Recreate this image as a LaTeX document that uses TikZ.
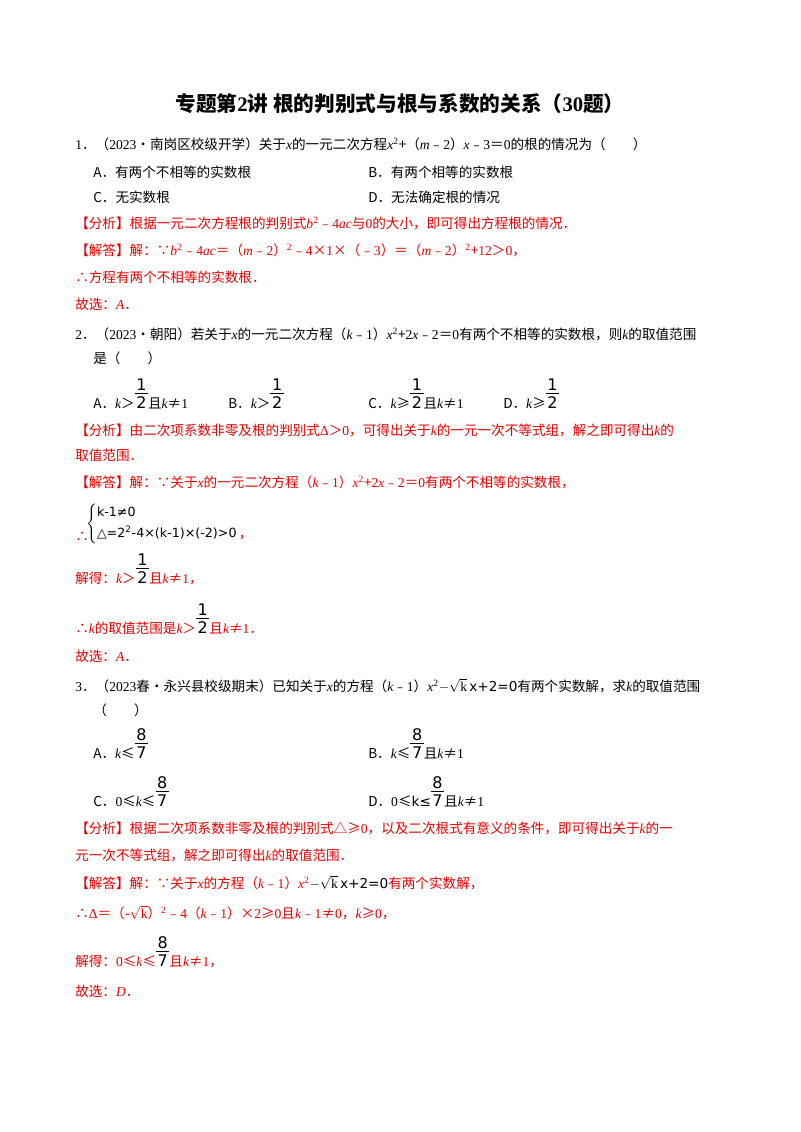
\documentclass[tikz,border=0pt]{standalone}
\usepackage{fontspec}
\setmainfont{Liberation Serif}
\newfontfamily\cjk{Noto Sans CJK SC}
\newfontfamily\lat{Liberation Serif}
\newfontfamily\sfx{DejaVu Sans}
\newcommand{\vv}[1]{{\lat\itshape #1}}
\newcommand{\nn}[1]{{\lat #1}}
\newcommand{\fr}[2]{{\color{black}\sfx\fontsize{12}{14}\selectfont\makebox[10pt][l]{\rlap{\raisebox{10.5pt}{\rule{10pt}{0.5pt}}}\rlap{\raisebox{13.5pt}{\makebox[10pt]{#1}}}\makebox[10pt]{#2}}}}
\definecolor{myred}{RGB}{230,0,0}
\tikzset{t/.style={anchor=base west,inner sep=0,font=\cjk\fontsize{10.2}{12}\selectfont},
 r/.style={t,text=myred}}
\begin{document}
\begin{tikzpicture}[x=0.75pt,y=-0.75pt]
\useasboundingbox[fill=white] (0,0) rectangle (800,1132);
\node[anchor=base,inner sep=0,font=\cjk\bfseries\fontsize{15.5}{17}\selectfont] (title) at (400,111) {专题第\nn{\textbf{2}}讲\ 根的判别式与根与系数的关系（\nn{\textbf{30}}题）};
% Q1
\node[t] (q1) at (75,149) {\nn{1}．（\nn{2023}•南岗区校级开学）关于\vv{x}的一元二次方程\vv{x}\textsuperscript{\nn{2}}+（\vv{m}﹣\nn{2}）\vv{x}﹣\nn{3}＝\nn{0}的根的情况为（　　）};
\node[t] (q1a) at (93,177) {A．有两个不相等的实数根};
\node[t] (q1b) at (368,177) {B．有两个相等的实数根};
\node[t] (q1c) at (93,202) {C．无实数根};
\node[t] (q1d) at (368,202) {D．无法确定根的情况};
\node[r] (q1f) at (75,228) {【分析】根据一元二次方程根的判别式\vv{b}\textsuperscript{\nn{2}}﹣\nn{4}\vv{ac}与\nn{0}的大小，即可得出方程根的情况．};
\node[r] (q1j) at (75,255) {【解答】解：∵\vv{b}\textsuperscript{\nn{2}}﹣\nn{4}\vv{ac}＝（\vv{m}﹣\nn{2}）\textsuperscript{\nn{2}}﹣\nn{4}×\nn{1}×（﹣\nn{3}）＝（\vv{m}﹣\nn{2}）\textsuperscript{\nn{2}}+\nn{12}＞\nn{0}，};
\node[r] (q1k) at (75,282) {∴方程有两个不相等的实数根．};
\node[r] (q1s) at (75,309) {故选：\vv{A}．};
% Q2
\node[t] (q2) at (75,339) {\nn{2}．（\nn{2023}•朝阳）若关于\vv{x}的一元二次方程（\vv{k}﹣\nn{1}）\vv{x}\textsuperscript{\nn{2}}+\nn{2}\vv{x}﹣\nn{2}＝\nn{0}有两个不相等的实数根，则\vv{k}的取值范围};
\node[t] (q2b) at (93,363) {是（　　）};
\node[t] (q2A) at (93,408) {A．\vv{k}＞\fr{1}{2}且\vv{k}≠\nn{1}};
\node[t] (q2B) at (228,408) {B．\vv{k}＞\fr{1}{2}};
\node[t] (q2C) at (368,408) {C．\vv{k}≥\fr{1}{2}且\vv{k}≠\nn{1}};
\node[t] (q2D) at (503,408) {D．\vv{k}≥\fr{1}{2}};
\node[r] (q2f) at (75,435) {【分析】由二次项系数非零及根的判别式\nn{Δ}＞\nn{0}，可得出关于\vv{k}的一元一次不等式组，解之即可得出\vv{k}的};
\node[r] (q2f2) at (75,460) {取值范围．};
\node[r] (q2j) at (75,487) {【解答】解：∵关于\vv{x}的一元二次方程（\vv{k}﹣\nn{1}）\vv{x}\textsuperscript{\nn{2}}+\nn{2}\vv{x}﹣\nn{2}＝\nn{0}有两个不相等的实数根，};
\node[r] (q2t) at (75,541) {∴};
\node[anchor=west,inner sep=0,font=\sfx\fontsize{9.5}{12}\selectfont] (sys) at (86,524) {$\left\{\begin{tabular}{@{}l@{}}k-1≠0\\[3pt] △=2\textsuperscript{2}-4×(k-1)×(-2)>0\end{tabular}\right.$};
\node[r,anchor=base west] at (sys.south east) [yshift=4pt] {，};
\node[r] (q2s) at (75,583) {解得：\vv{k}＞\fr{1}{2}且\vv{k}≠\nn{1}，};
\node[r] (q2r) at (75,633) {∴\vv{k}的取值范围是\vv{k}＞\fr{1}{2}且\vv{k}≠\nn{1}．};
\node[r] (q2x) at (75,661) {故选：\vv{A}．};
% Q3
\node[t] (q3) at (75,691) {\nn{3}．（\nn{2023}春•永兴县校级期末）已知关于\vv{x}的方程（\vv{k}﹣\nn{1}）\vv{x}\textsuperscript{\nn{2}}{\sfx$-\sqrt{\mathrm{k}}\,$x+2=0}有两个实数解，求\vv{k}的取值范围};
\node[t] (q3b) at (93,715) {（　　）};
\node[t] (q3A) at (93,758) {A．\vv{k}≤\fr{8}{7}};
\node[t] (q3B) at (368,758) {B．\vv{k}≤\fr{8}{7}且\vv{k}≠\nn{1}};
\node[t] (q3C) at (93,806) {C．\nn{0}≤\vv{k}≤\fr{8}{7}};
\node[t] (q3D) at (368,806) {D．\nn{0}≤{\sfx k≤}\fr{8}{7}且\vv{k}≠\nn{1}};
\node[r] (q3f) at (75,833) {【分析】根据二次项系数非零及根的判别式△≥\nn{0}，以及二次根式有意义的条件，即可得出关于\vv{k}的一};
\node[r] (q3f2) at (75,860) {元一次不等式组，解之即可得出\vv{k}的取值范围．};
\node[r] (q3j) at (75,888) {【解答】解：∵关于\vv{x}的方程（\vv{k}﹣\nn{1}）\vv{x}\textsuperscript{\nn{2}}{\color{black}\sfx$-\sqrt{\mathrm{k}}\,$x+2=0}有两个实数解，};
\node[r] (q3k) at (75,918) {∴\nn{Δ}＝（{\sfx -$\sqrt{\mathrm{k}}$}）\textsuperscript{\nn{2}}﹣\nn{4}（\vv{k}﹣\nn{1}）×\nn{2}≥\nn{0}且\vv{k}﹣\nn{1}≠\nn{0}，\vv{k}≥\nn{0}，};
\node[r] (q3s) at (75,966) {解得：\nn{0}≤\vv{k}≤\fr{8}{7}且\vv{k}≠\nn{1}，};
\node[r] (q3x) at (75,996) {故选：\vv{D}．};
\end{tikzpicture}
\end{document}
